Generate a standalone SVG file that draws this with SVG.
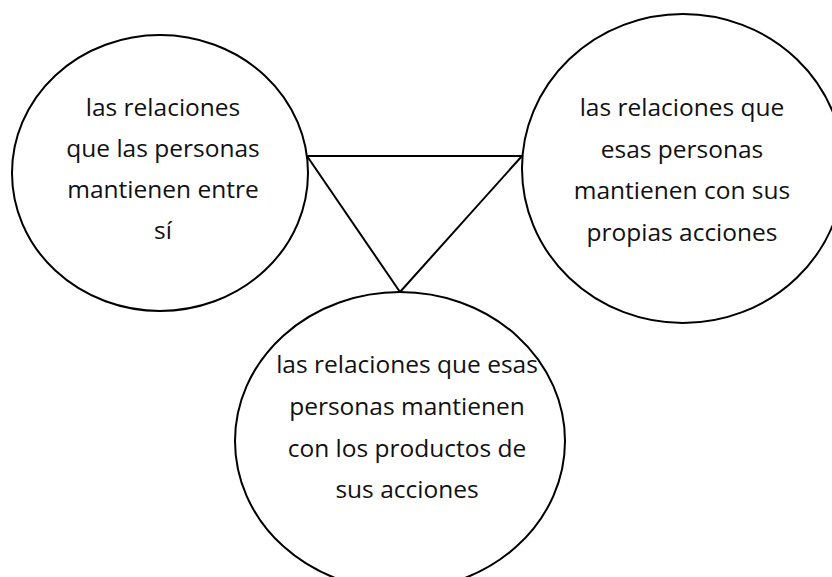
<svg xmlns="http://www.w3.org/2000/svg" width="832" height="577" viewBox="0 0 832 577">
<style>
.node{fill:#fff;stroke:#000;stroke-width:2}
.conn{stroke:#000;stroke-width:2;fill:none}
.t{font-family:"Open Sans","Liberation Sans",sans-serif;font-size:24.5px;fill:#111;text-anchor:middle}
</style>
<rect width="832" height="577" fill="#fff"/>
<g id="connectors">
<line class="conn" x1="307" y1="156" x2="522" y2="156"/>
<line class="conn" x1="307" y1="156" x2="400" y2="292"/>
<line class="conn" x1="522" y1="156" x2="400" y2="292"/>
</g>
<g id="node-left">
<ellipse class="node" cx="160" cy="173" rx="148" ry="138"/>
<text class="t" x="163" y="116">las relaciones</text>
<text class="t" x="163" y="157">que las personas</text>
<text class="t" x="163" y="198">mantienen entre</text>
<text class="t" x="163" y="239">sí</text>
</g>
<g id="node-right">
<ellipse class="node" cx="683" cy="168.5" rx="161" ry="154.5"/>
<text class="t" x="682" y="116">las relaciones que</text>
<text class="t" x="682" y="158">esas personas</text>
<text class="t" x="682" y="199">mantienen con sus</text>
<text class="t" x="682" y="241">propias acciones</text>
</g>
<g id="node-bottom">
<ellipse class="node" cx="400" cy="441" rx="165" ry="149"/>
<text class="t" x="407" y="373">las relaciones que esas</text>
<text class="t" x="407" y="415">personas mantienen</text>
<text class="t" x="407" y="457">con los productos de</text>
<text class="t" x="407" y="498">sus acciones</text>
</g>
</svg>
